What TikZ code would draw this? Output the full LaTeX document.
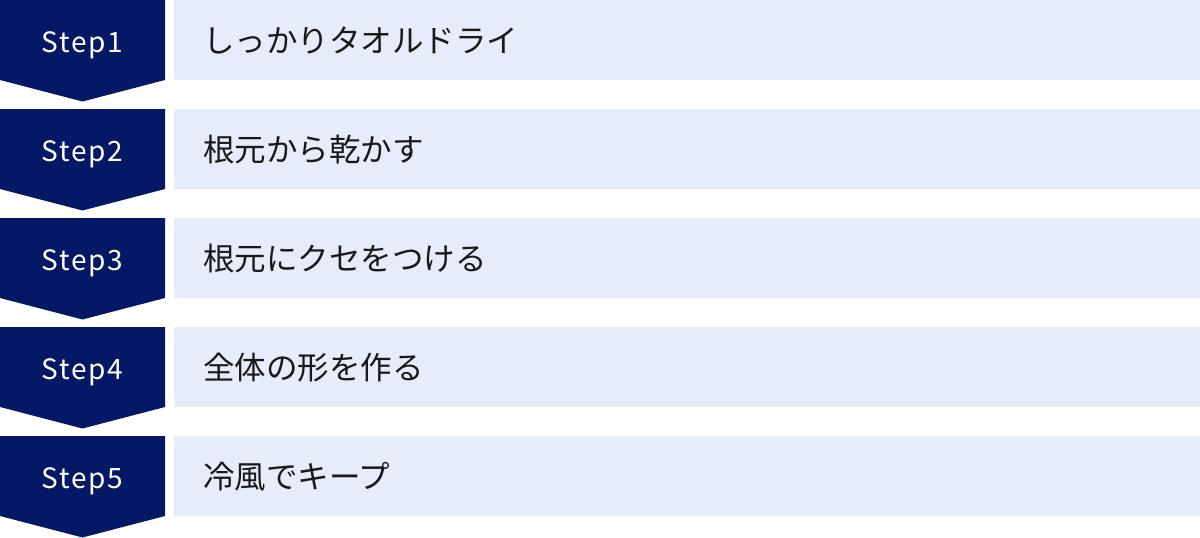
\documentclass[tikz,border=0pt]{standalone}
\usepackage{fontspec}
\setmainfont{Noto Sans CJK JP}
\newfontfamily\steplabelfont[LetterSpace=6]{Noto Sans CJK JP}
\usetikzlibrary{positioning}

\definecolor{stepnavy}{HTML}{051865}
\definecolor{boxblue}{HTML}{E6ECF9}

\tikzstyle{chevron}=[fill=stepnavy]
\tikzstyle{steplabel}=[text=white, font=\steplabelfont\fontsize{28}{32}\selectfont, inner sep=0pt, anchor=base]
\tikzstyle{stepbox}=[fill=boxblue, minimum width=1026pt, minimum height=80pt, anchor=north west,
  text width=968pt, inner xsep=29pt, align=left, font=\fontsize{31.5}{36}\selectfont, text=black!90]

\begin{document}
\begin{tikzpicture}[x=1pt, y=-1pt]
\useasboundingbox (0,0) rectangle (1200,538);

% Step1
\fill[chevron] (0,0) -- (165,0) -- (165,80) -- (82.5,101.5) -- (0,80) -- cycle;
\node [steplabel] (s1) at (82.5,52) {Step1};
\node [stepbox] (t1) at (174,0) {しっかりタオルドライ};

% Step2
\fill[chevron] (0,109) -- (165,109) -- (165,189) -- (82.5,210.5) -- (0,189) -- cycle;
\node [steplabel] (s2) at (82.5,161) {Step2};
\node [stepbox] (t2) at (174,109) {根元から乾かす};

% Step3
\fill[chevron] (0,218) -- (165,218) -- (165,298) -- (82.5,319.5) -- (0,298) -- cycle;
\node [steplabel] (s3) at (82.5,270) {Step3};
\node [stepbox] (t3) at (174,218) {根元にクセをつける};

% Step4
\fill[chevron] (0,327) -- (165,327) -- (165,407) -- (82.5,428.5) -- (0,407) -- cycle;
\node [steplabel] (s4) at (82.5,379) {Step4};
\node [stepbox] (t4) at (174,327) {全体の形を作る};

% Step5
\fill[chevron] (0,436) -- (165,436) -- (165,516) -- (82.5,537.5) -- (0,516) -- cycle;
\node [steplabel] (s5) at (82.5,488) {Step5};
\node [stepbox] (t5) at (174,436) {冷風でキープ};
\end{tikzpicture}
\end{document}
